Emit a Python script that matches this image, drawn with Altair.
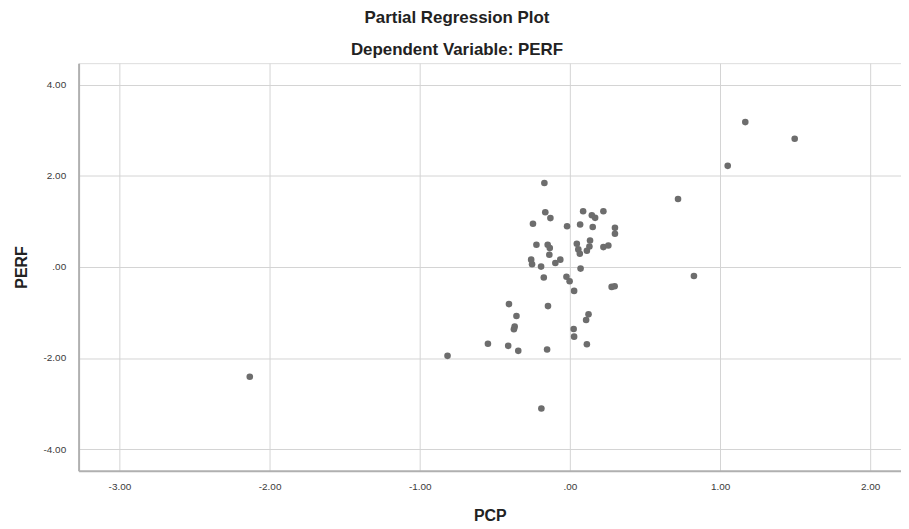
import altair as alt
import pandas as pd

# Values
pcp = [-0.170, -0.164, -0.130, -0.246, -0.019, 0.068, 0.088, 0.146, 0.168, 0.223,
       0.152, 0.300, 0.300, -0.223, -0.148, -0.134, -0.137, -0.258, -0.252, -0.192,
       -0.097, -0.064, 0.046, 0.056, 0.066, 0.134, 0.130, 0.113, 0.223, 0.256,
       0.071, -0.174, -0.023, -0.002, 0.028, 0.278, 0.298, -0.406, -0.146, -0.356,
       0.124, 0.108, -0.368, -0.373, 0.025, 0.028, -0.546, -0.411, -0.344, -0.152,
       0.113, -0.190, -0.815, -2.132, 1.168, 1.497, 1.051, 0.720, 0.826]
perf = [1.845, 1.202, 1.075, 0.949, 0.896, 0.933, 1.224, 1.137, 1.080, 1.224,
        0.879, 0.861, 0.730, 0.490, 0.490, 0.415, 0.271, 0.162, 0.059, 0.009,
        0.087, 0.162, 0.511, 0.387, 0.293, 0.584, 0.452, 0.358, 0.437, 0.474,
        -0.035, -0.232, -0.214, -0.313, -0.525, -0.437, -0.422, -0.815, -0.859, -1.078,
        -1.040, -1.165, -1.311, -1.368, -1.362, -1.530, -1.685, -1.733, -1.843, -1.814,
        -1.696, -3.110, -1.952, -2.412, 3.185, 2.820, 2.223, 1.495, -0.197]

x_ticks = [-3, -2, -1, 0, 1, 2]
y_ticks = [-4, -2, 0, 2, 4]
x_domain = [-3.272, 2.205]
y_domain = [-4.48, 4.48]

df = pd.DataFrame({"PCP": pcp, "PERF": perf})

FONT = "Liberation Sans"
label_expr = ("datum.value == 0 ? '.00' : "
              "replace(format(datum.value, '.2f'), '\u2212', '-')")

common_axis = dict(
    ticks=False,
    tickSize=0,
    grid=True,
    gridColor="#d4d4d4",
    gridWidth=1,
    domainColor="#b0b0b0",
    domainWidth=2,
    labelFont=FONT,
    labelFontSize=10,
    labelColor="#3a3a3a",
    labelExpr=label_expr,
    titleFont=FONT,
    titleFontSize=16,
    titleFontWeight="bold",
    titleColor="#222222",
    titleBaseline="alphabetic",
)

chart = (
    alt.Chart(df)
    .mark_circle(size=44, color="#6d6d6d", opacity=1)
    .encode(
        x=alt.X(
            "PCP:Q",
            scale=alt.Scale(domain=x_domain, nice=False, zero=False),
            axis=alt.Axis(values=x_ticks, title="PCP", labelPadding=11,
                          titleY=50, **common_axis),
        ),
        y=alt.Y(
            "PERF:Q",
            scale=alt.Scale(domain=y_domain, nice=False, zero=False),
            axis=alt.Axis(values=y_ticks, title="PERF", labelPadding=13,
                          titleX=-52, titleY=205, titleAngle=-90, **common_axis),
        ),
    )
    .properties(
        width=827,
        height=410,
        title=alt.TitleParams(
            text="Partial Regression Plot",
            subtitle="Dependent Variable: PERF",
            font=FONT,
            fontSize=17,
            fontWeight="bold",
            color="#222222",
            subtitleFont=FONT,
            subtitleFontSize=17,
            subtitleFontWeight="bold",
            subtitleColor="#222222",
            subtitlePadding=15,
            anchor="middle",
            dx=-33,
            offset=4,
        ),
        autosize=alt.AutoSizeParams(type="none"),
        padding={"left": 71, "top": 54, "right": 0, "bottom": 57},
    )
    .configure_view(strokeWidth=0)
    .configure(background="white")
)

chart.save("out.html", embed_options={"renderer": "svg", "actions": False})
